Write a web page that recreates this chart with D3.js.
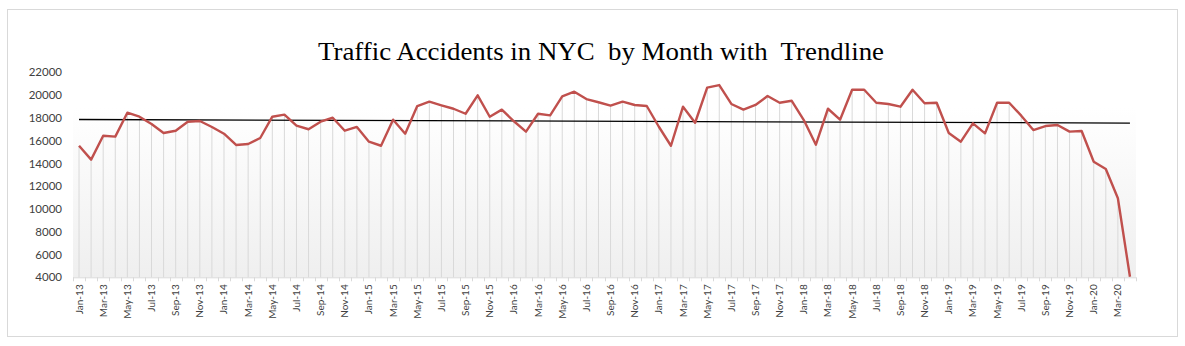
<!DOCTYPE html>
<html>
<head>
<meta charset="utf-8">
<script src="https://cdn.jsdelivr.net/npm/d3@7"></script>
<style>
  html, body { margin: 0; padding: 0; background: #fff; }
  svg { display: block; }
</style>
</head>
<body>
<svg id="chart" width="1185" height="346"></svg>
<script>
// Monthly traffic accidents in NYC, Jan 2013 – Apr 2020
const monthNames = ["Jan","Feb","Mar","Apr","May","Jun","Jul","Aug","Sep","Oct","Nov","Dec"];
const months = [];
for (let y = 13; y <= 20; y++) {
  for (let m = 0; m < 12; m++) {
    if (y === 20 && m > 3) break;
    months.push(monthNames[m] + "-" + y);
  }
}

const accidents = [
  15550, 14330, 16430, 16350, 18450, 18100, 17460, 16670, 16870, 17660, 17720, 17200,
  16610, 15620, 15700, 16230, 18100, 18280, 17310, 17000, 17660, 18010, 16870, 17200,
  15910, 15550, 17840, 16610, 19040, 19420, 19100, 18800, 18360, 19980, 18100, 18720,
  17700, 16790, 18360, 18220, 19890, 20300, 19650, 19370, 19070, 19420, 19130, 19040,
  17220, 15550, 18980, 17570, 20650, 20880, 19220, 18720, 19130, 19920, 19330, 19500,
  17810, 15640, 18800, 17840, 20470, 20470, 19330, 19220, 18980, 20470, 19280, 19330,
  16670, 15910, 17520, 16640, 19330, 19330, 18190, 16930, 17280, 17370, 16790, 16850,
  14150, 13510, 10940, 4050
];

const yTicks = [4000, 6000, 8000, 10000, 12000, 14000, 16000, 18000, 20000, 22000];
const titleText = "Traffic Accidents in NYC  by Month with  Trendline";

const svg = d3.select("#chart");
const plot = { left: 73, right: 1136, top: 72.3, bottom: 277.3 };

// outer chart frame
svg.append("rect")
  .attr("x", 7.5).attr("y", 9.5).attr("width", 1170).attr("height", 327)
  .attr("fill", "#fff").attr("stroke", "#d9d9d9").attr("stroke-width", 1);

const x = d3.scaleBand().domain(months).range([plot.left, plot.right]).padding(0);
const y = d3.scaleLinear().domain([4000, 22000]).range([plot.bottom, plot.top]);
const cx = d => x(d) + x.bandwidth() / 2;

// plot-area gradient fill
const defs = svg.append("defs");
const grad = defs.append("linearGradient").attr("id", "plotFill")
  .attr("x1", 0).attr("y1", 0).attr("x2", 0).attr("y2", 1);
grad.append("stop").attr("offset", "0%").attr("stop-color", "#ffffff");
grad.append("stop").attr("offset", "100%").attr("stop-color", "#efefef");
svg.append("rect")
  .attr("x", plot.left).attr("y", 108)
  .attr("width", plot.right - plot.left).attr("height", plot.bottom - 108)
  .attr("fill", "url(#plotFill)");

// title
svg.append("text")
  .attr("x", 318).attr("y", 60)
  .attr("font-family", "'Liberation Serif', 'DejaVu Serif', serif")
  .attr("font-size", 26)
  .attr("fill", "#000")
  .attr("textLength", 566)
  .attr("lengthAdjust", "spacingAndGlyphs")
  .style("white-space", "pre")
  .attr("xml:space", "preserve")
  .text(titleText);

// drop lines from each point to the axis
svg.append("g").selectAll("line")
  .data(accidents)
  .join("line")
  .attr("x1", (d, i) => cx(months[i])).attr("x2", (d, i) => cx(months[i]))
  .attr("y1", d => y(Math.max(d, 4000))).attr("y2", plot.bottom)
  .attr("stroke", "#d9d9d9").attr("stroke-width", 1);

// y axis labels
const yAxis = d3.axisLeft(y).tickValues(yTicks).tickSize(0).tickPadding(11)
  .tickFormat(d3.format("d"));
const gy = svg.append("g").attr("transform", `translate(${plot.left},0)`).call(yAxis);
gy.select(".domain").remove();
gy.selectAll("text")
  .attr("font-family", "Lato, 'Open Sans', sans-serif")
  .attr("font-size", 11.5).attr("fill", "#404040");

// x axis: ticks at category boundaries, labels on every other month
const gx = svg.append("g").attr("transform", `translate(0,${plot.bottom})`);
gx.append("line")
  .attr("x1", plot.left).attr("x2", plot.right)
  .attr("y1", 0.5).attr("y2", 0.5)
  .attr("stroke", "#d9d9d9").attr("stroke-width", 1);
const bounds = months.map(m => x(m)).concat([plot.right]);
gx.selectAll("line.tick")
  .data(bounds)
  .join("line").attr("class", "tick")
  .attr("x1", d => Math.round(d) + 0.5).attr("x2", d => Math.round(d) + 0.5)
  .attr("y1", 0).attr("y2", 4)
  .attr("stroke", "#d9d9d9");
gx.selectAll("text")
  .data(months.filter((m, i) => i % 2 === 0))
  .join("text")
  .attr("transform", d => `translate(${cx(d) + 3.5},7) rotate(-90)`)
  .attr("text-anchor", "end")
  .attr("font-family", "Lato, 'Open Sans', sans-serif")
  .attr("font-size", 10)
  .attr("fill", "#404040")
  .text(d => d);

// linear trendline (least squares over month index)
const n = accidents.length;
const idx = d3.range(n);
const mx = d3.mean(idx), my = d3.mean(accidents);
const slope = d3.sum(idx, i => (i - mx) * (accidents[i] - my)) / d3.sum(idx, i => (i - mx) ** 2);
const intercept = my - slope * mx;
const trend = [0, n - 1].map(i => ({ i, v: intercept + slope * i }));

svg.append("line")
  .attr("x1", cx(months[trend[0].i])).attr("x2", cx(months[trend[1].i]))
  .attr("y1", y(trend[0].v)).attr("y2", y(trend[1].v))
  .attr("stroke", "#000").attr("stroke-width", 1.3);

// accident series
const line = d3.line()
  .x((d, i) => cx(months[i]))
  .y(d => y(Math.max(d, 4000)));
svg.append("path")
  .datum(accidents)
  .attr("d", line)
  .attr("fill", "none")
  .attr("stroke", "#c0504d")
  .attr("stroke-width", 2.4)
  .attr("stroke-linejoin", "round");
</script>
</body>
</html>
